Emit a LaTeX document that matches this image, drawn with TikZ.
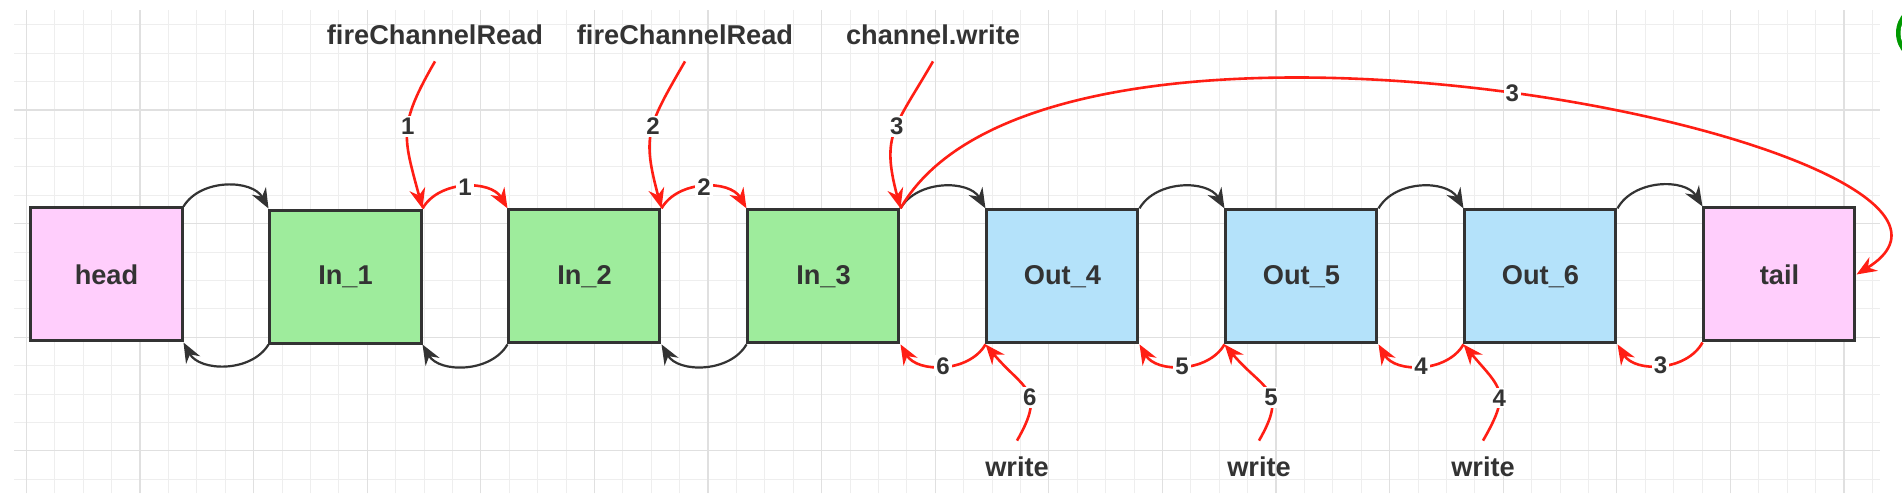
\documentclass[tikz,border=0pt]{standalone}
\usepackage{fontspec}
\setsansfont{Liberation Sans}
\usetikzlibrary{matrix,arrows.meta}

\definecolor{pinkfill}{RGB}{255,206,252}
\definecolor{greenfill}{RGB}{158,236,156}
\definecolor{bluefill}{RGB}{180,226,250}
\definecolor{boxline}{RGB}{51,51,51}
\definecolor{pointer}{RGB}{255,30,20}
\definecolor{gridminor}{RGB}{238,238,238}
\definecolor{gridmajor}{RGB}{224,224,224}

\begin{document}
\begin{tikzpicture}[
        x=0.5pt, y=0.5pt,
        font=\sffamily\bfseries\fontsize{13.6}{16}\selectfont,
        text=boxline,
        chain/.style={
            matrix of nodes,
            nodes={draw=boxline, line width=1.5pt, minimum width=75.5pt, minimum height=66.5pt, inner sep=0pt},
            column sep=42.5pt
        },
        headbox/.style={fill=pinkfill},
        inbox/.style={fill=greenfill},
        outbox/.style={fill=bluefill},
        link/.style={-{Stealth[length=10pt,width=8pt]}, line width=1.1pt, draw=boxline},
        call/.style={-{Stealth[length=10pt,width=8pt]}, line width=1.3pt, draw=pointer},
        num/.style={fill=white, inner sep=1pt, font=\sffamily\bfseries\fontsize{12}{14}\selectfont},
        caption/.style={inner sep=8pt}
    ]

        \useasboundingbox (0,0) rectangle (1902,500);
        \fill[white] (0,0) rectangle (1902,500);

        % grid
        \foreach \k in {0,...,65}
            \draw[gridminor, line width=0.5pt] ({26.4+28.4*\k},7) -- ({26.4+28.4*\k},490);
        \foreach \k in {0,...,16}
            \draw[gridminor, line width=0.5pt] (14,{475.2-28.4*\k}) -- (1880,{475.2-28.4*\k});
        \foreach \k in {0,4,...,64}
            \draw[gridmajor, line width=0.6pt] ({26.4+28.4*\k},7) -- ({26.4+28.4*\k},490);
        \foreach \k in {3,7,11,15}
            \draw[gridmajor, line width=0.6pt] (14,{475.2-28.4*\k}) -- (1880,{475.2-28.4*\k});

        \matrix[chain] (list) at (943,224.5) {
            |[headbox](head)| head & |[inbox](in1)| In\_1 & |[inbox](in2)| In\_2 & |[inbox](in3)| In\_3 & |[outbox](out4)| Out\_4 & |[outbox](out5)| Out\_5 & |[outbox](out6)| Out\_6 & |[headbox](tail)| tail \\
        };

        % next / prev links
        \draw[link] (head.north east) to[bend left=60] (in1.north west);
        \draw[link] (in1.south west) to[bend left=60] (head.south east);
        \draw[call] (in1.north east) to[bend left=60] node[num] {1} (in2.north west);
        \draw[link] (in2.south west) to[bend left=60] (in1.south east);
        \draw[call] (in2.north east) to[bend left=60] node[num] {2} (in3.north west);
        \draw[link] (in3.south west) to[bend left=60] (in2.south east);
        \draw[link] (in3.north east) to[bend left=60] (out4.north west);
        \draw[call] (out4.south west) to[bend left=60] node[num] {6} (in3.south east);
        \draw[link] (out4.north east) to[bend left=60] (out5.north west);
        \draw[call] (out5.south west) to[bend left=60] node[num] {5} (out4.south east);
        \draw[link] (out5.north east) to[bend left=60] (out6.north west);
        \draw[call] (out6.south west) to[bend left=60] node[num] {4} (out5.south east);
        \draw[link] (out6.north east) to[bend left=60] (tail.north west);
        \draw[call] (tail.south west) to[bend left=60] node[num] {3} (out6.south east);

        % calls
        \node[caption] (fire1) at (435,465) {fireChannelRead};
        \node[caption] (fire2) at (685,465) {fireChannelRead};
        \node[caption] (chwrite) at (933,465) {channel.write};
        \node[caption] (write4) at (1017,33) {write};
        \node[caption] (write5) at (1259,33) {write};
        \node[caption] (write6) at (1483,33) {write};

        \draw[call] (fire1.south) to[out=240, in=105, looseness=1.3] node[num, pos=0.45] {1} (in1.north east);
        \draw[call] (fire2.south) to[out=240, in=105, looseness=1.3] node[num, pos=0.45] {2} (in2.north east);
        \draw[call] (chwrite.south) to[out=240, in=105, looseness=1.3] node[num, pos=0.45] {3} (in3.north east);
        \draw[call] (write4.north) to[out=60, in=-50, looseness=1.5] node[num, pos=0.4] {6} (out4.south west);
        \draw[call] (write5.north) to[out=60, in=-50, looseness=1.5] node[num, pos=0.4] {5} (out5.south west);
        \draw[call] (write6.north) to[out=60, in=-50, looseness=1.5] node[num, pos=0.4] {4} (out6.south west);

        \draw[call] (in3.north east) .. controls +(154,269) and +(203,125) .. (tail.east) node[num, pos=0.5] {3};

        \begin{scope}
            \clip (0,0) rectangle (1902,500);
            \fill[green!60!black] (1926,467) circle (30);
            \draw[white, line width=1.5pt] (1926,467) circle (24);
        \end{scope}
    \end{tikzpicture}
\end{document}
